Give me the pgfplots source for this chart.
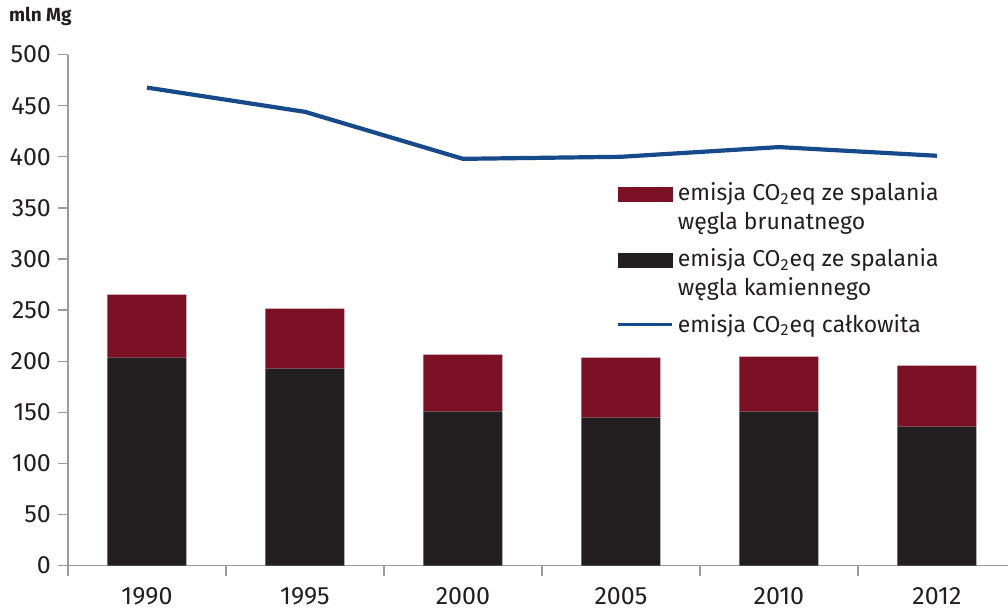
\documentclass[border=0pt]{standalone}
\usepackage{fontspec}
\setmainfont{Fira Sans}
\usepackage{pgfplots}
\pgfplotsset{compat=1.18}
\definecolor{wred}{RGB}{124,16,36}
\definecolor{wblack}{RGB}{35,31,32}
\definecolor{wblue}{RGB}{22,74,138}
\definecolor{axgray}{RGB}{155,155,155}
\definecolor{txt}{RGB}{35,31,32}

\begin{document}
\begin{tikzpicture}
\pgfplotsset{
  base/.style={
    scale only axis, width=470pt, height=255.5pt,
    xmin=-0.5, xmax=5.45, ymin=0, ymax=500,
    clip=false,
  }
}
% bars: hard coal at the bottom, lignite stacked on top
\begin{axis}[base,
  ybar stacked, bar width=39.5pt,
  axis lines=left,
  axis line style={draw=axgray, line width=0.6pt, -},
  ytick={0,50,...,500},
  tick align=outside, major tick length=5pt,
  tick style={axgray, line width=0.6pt},
  xtick={-0.5,0.5,...,4.5}, xticklabels={},
  extra x ticks={0,1,2,3,4,5},
  extra x tick labels={1990,1995,2000,2005,2010,2012},
  extra x tick style={major tick length=0pt},
  tick label style={font=\fontsize{12.5}{14}\selectfont, text=txt},
  xticklabel style={anchor=base, yshift=-19.6pt},
  /pgf/number format/assume math mode=true,
]
\addplot[fill=wblack, draw=none] coordinates {
  (0,203.5)(1,192.8)(2,150.7)(3,144.8)(4,150.7)(5,136.0)};
\addplot[fill=wred, draw=none] coordinates {
  (0,61.7)(1,58.7)(2,55.8)(3,58.7)(4,53.8)(5,59.7)};
\node[anchor=west, font=\bfseries\fontsize{9.5}{11}\selectfont, text=txt,
  xshift=-33pt, yshift=19pt] at (rel axis cs:0,1) {mln Mg};
\end{axis}
% total emission line and the legend
\begin{axis}[base, hide axis,
  legend style={draw=none, fill=none, at={(rel axis cs:0.577,0.766)},
    anchor=north west, row sep=4pt,
    nodes={align=left, text=txt, font=\fontsize{11.5}{14.5}\selectfont}},
  legend cell align=left,
]
\addlegendimage{legend image code/.code={
  \fill[wred] (0pt,3pt) rectangle (27pt,10pt); \path (0pt,-10pt);}}
\addlegendentry{emisja CO\textsubscript{2}eq ze spalania\\węgla brunatnego}
\addlegendimage{legend image code/.code={
  \fill[wblack] (0pt,3pt) rectangle (27pt,10pt); \path (0pt,-10pt);}}
\addlegendentry{emisja CO\textsubscript{2}eq ze spalania\\węgla kamiennego}
\addplot[wblue, line width=2.1pt, sharp plot,
  legend image code/.code={\draw[wblue, line width=1.5pt] (0pt,0pt) -- (27pt,0pt);}]
  coordinates {(0,467.7)(1,444.0)(2,398.0)(3,400.0)(4,409.5)(5,401.0)};
\addlegendentry{emisja CO\textsubscript{2}eq całkowita}
\end{axis}
\pgfresetboundingbox
\path[use as bounding box] (-34pt,-21.7pt) rectangle (470pt,282.8pt);
\end{tikzpicture}
\end{document}
